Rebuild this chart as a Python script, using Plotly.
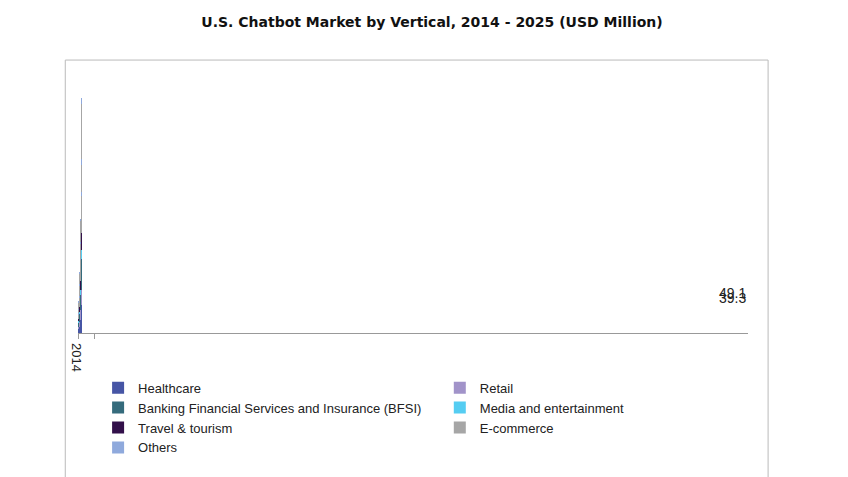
import plotly.graph_objects as go

years = ["2014", "2015", "2016", "2017", "2018", "2019", "2020", "2021", "2022", "2023", "2024", "2025"]
healthcare = [7.2, 9.2, 10.3, 12.9, 17.8, 21.9, 26.7, 34.9, 47.2, 57.4, 69.7, 96.4]
retail = [5.1, 6.1, 8.2, 9.6, 12.3, 15.8, 19.5, 22.6, 24.6, 30.8, 36.9, 47.2]
bfsi = [8.2, 10.3, 12.9, 15.8, 20.5, 25.2, 32.2, 41.0, 51.3, 63.6, 77.9, 106.6]
media = [3.1, 4.1, 4.7, 4.7, 5.5, 8.8, 10.3, 14.4, 14.4, 18.5, 22.6, 30.8]
travel = [5.1, 6.1, 9.6, 9.6, 12.9, 15.0, 18.5, 22.6, 28.7, 34.9, 43.1, 57.4]
ecommerce = [9.6, 12.3, 17.0, 19.9, 28.1, 35.5, 42.4, 47.2, 63.6, 75.9, 94.3, 131.2]
others = [1.0, 1.0, 2.0, 2.0, 2.0, 2.0, 2.0, 4.1, 4.1, 8.2, 12.3, 12.3]
labelled = {"2014": "39.3", "2015": "49.1"}

# name, values, colour, legend column
series = [
    ("Healthcare", healthcare, "#4655a5", "legend"),
    ("Retail", retail, "#a193c9", "legend2"),
    ("Banking Financial Services and Insurance (BFSI)", bfsi, "#356b7c", "legend"),
    ("Media and entertainment", media, "#55cdf2", "legend2"),
    ("Travel & tourism", travel, "#32104a", "legend"),
    ("E-commerce", ecommerce, "#a6a6a6", "legend2"),
    ("Others", others, "#8fa9dc", "legend"),
]

fig = go.Figure()
for name, vals, color, leg in series:
    fig.add_bar(x=years, y=vals, name=name, marker_color=color, marker_line_width=0,
                legend=leg, legendgroup=name)

totals = [sum(s[1][i] for s in series) for i in range(len(years))]
for yr, txt in labelled.items():
    i = years.index(yr)
    fig.add_annotation(x=yr, y=totals[i], text=txt, showarrow=False, yshift=16,
                       font=dict(size=14, color="#222"))

fig.add_shape(type="rect", xref="paper", yref="paper", x0=-0.019, x1=1.03, y0=-0.558, y1=1.03,
              line=dict(color="#bbbbbb", width=1))

leg_common = dict(orientation="v", yanchor="top", xanchor="left", traceorder="normal",
                  tracegroupgap=6, font=dict(size=13), itemwidth=30, bgcolor="rgba(0,0,0,0)")

fig.update_layout(
    width=848, height=477,
    margin=dict(l=70, r=108, t=60, b=152, autoexpand=False),
    barmode="stack", bargap=0.58,
    plot_bgcolor="white", paper_bgcolor="white",
    font=dict(family="Liberation Sans, Arial", size=13, color="#222"),
    title=dict(text="<b>U.S. Chatbot Market by Vertical, 2014 - 2025 (USD Million)</b>",
               x=0.5, xanchor="center", y=0.97, yanchor="middle",
               font=dict(family="DejaVu Sans", size=14, color="#111")),
    xaxis=dict(type="category", showline=True, linecolor="#999", ticks="outside", tickson="boundaries",
               tickcolor="#999", ticklen=5, tickfont=dict(size=13)),
    yaxis=dict(visible=False, range=[0, 543]),
    legend=dict(x=0.03, y=-0.15, **leg_common),
    legend2=dict(x=0.54, y=-0.15, **leg_common),
)

fig.write_html("out.html")
